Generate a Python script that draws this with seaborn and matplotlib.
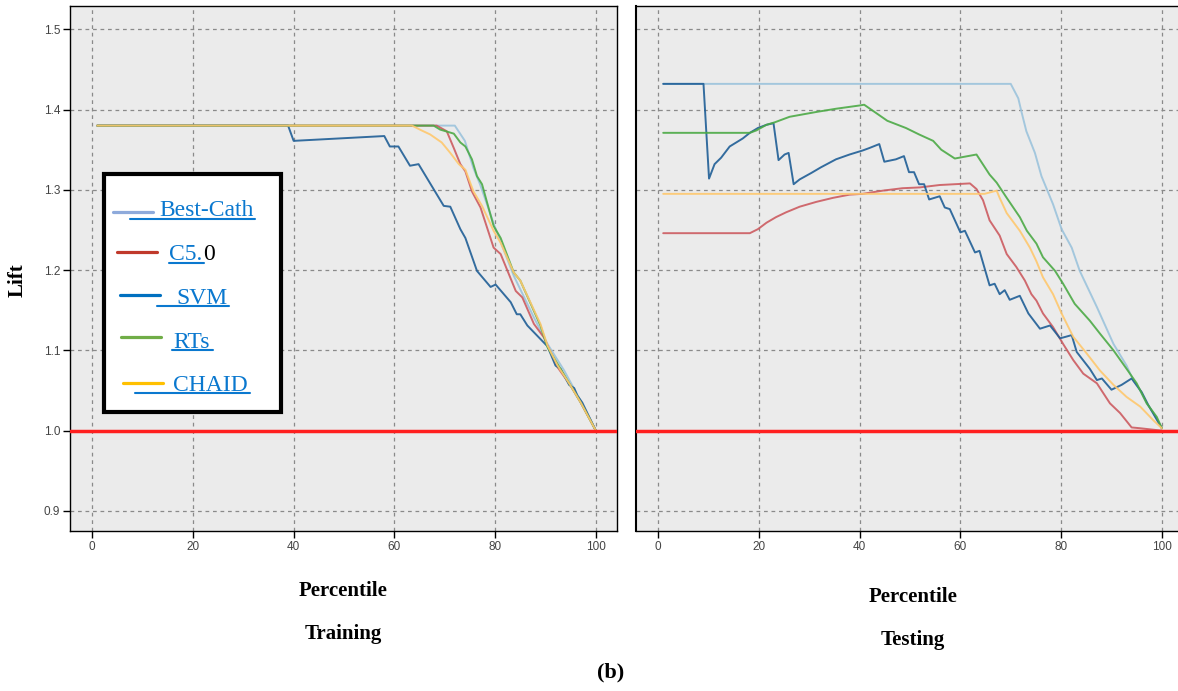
import matplotlib
matplotlib.use('Agg')
import matplotlib.pyplot as plt
import seaborn as sns
import pandas as pd
from matplotlib.lines import Line2D
from matplotlib.patches import Rectangle

# modelos e cores
models = ['Best-Cath', 'C5.0', 'SVM', 'RTs', 'CHAID']
line_colors = ['#9cc3dc', '#cc5b60', '#1f5e96', '#4caa46', '#ffc86e']
legend_colors = ['#8eaadb', '#c0392b', '#0070c0', '#70ad47', '#ffc000']

# Training
best_train_x = [1, 72, 74, 75.7, 77, 80, 83.7, 87.7, 90.4, 93.7, 97, 100]
best_train_y = [1.38, 1.38, 1.361, 1.327, 1.307, 1.253, 1.193, 1.141, 1.108, 1.075, 1.037, 1.0]
c50_train_x = [1, 68.4, 70.4, 71.8, 73.1, 74.1, 75.4, 77.1, 79.7, 81.1, 84.1, 85.4, 87.7, 89.7, 90.4, 92.4, 95, 97, 100]
c50_train_y = [1.38, 1.38, 1.373, 1.352, 1.332, 1.323, 1.298, 1.278, 1.228, 1.220, 1.174, 1.166, 1.133, 1.116, 1.106, 1.079, 1.056, 1.035, 1.0]
svm_train_x = [1, 38.9, 40, 58, 59.1, 60.8, 63.1, 64.8, 69.8, 71.1, 73.1, 74.1, 76.4, 79.1, 80.1, 83.1, 84.3, 85,
               86.4, 90.4, 92, 93, 94.7, 95.7, 96.3, 97.3, 100]
svm_train_y = [1.38, 1.38, 1.361, 1.367, 1.354, 1.354, 1.330, 1.332, 1.280, 1.279, 1.251, 1.240, 1.199, 1.179, 1.182,
               1.160, 1.145, 1.145, 1.131, 1.105, 1.081, 1.077, 1.057, 1.053, 1.044, 1.035, 1.0]
rts_train_x = [1, 63.5, 67.8, 69.1, 71.8, 73.1, 74.1, 75.4, 76.4, 77.4, 79.7, 81.1, 83.7, 85, 89, 90.4, 92.4, 95, 97, 100]
rts_train_y = [1.38, 1.38, 1.38, 1.375, 1.370, 1.359, 1.354, 1.338, 1.317, 1.307, 1.255, 1.240, 1.197, 1.187, 1.131,
               1.104, 1.083, 1.056, 1.035, 1.0]
chaid_train_x = [1, 63.5, 65.4, 67.1, 69.4, 71.1, 72.8, 74.1, 75.7, 77.4, 79.7, 81.1, 83.7, 85, 89, 90.4, 92.4, 95, 97, 100]
chaid_train_y = [1.38, 1.38, 1.374, 1.369, 1.359, 1.346, 1.332, 1.325, 1.298, 1.280, 1.249, 1.234, 1.197, 1.187, 1.133,
                 1.106, 1.081, 1.056, 1.035, 1.0]

# Testing
best_test_x = [1, 70, 71.5, 72.1, 73.1, 74.8, 76.1, 78.4, 80.1, 82.1, 83.7, 87.1, 90.4, 93, 94.3, 95.7, 97, 98.3, 100]
best_test_y = [1.432, 1.432, 1.414, 1.398, 1.373, 1.346, 1.317, 1.282, 1.251, 1.228, 1.199, 1.154, 1.108, 1.081, 1.063,
               1.050, 1.034, 1.022, 1.003]
c50_test_x = [1, 18.2, 19.8, 21.5, 23.4, 25.4, 28.1, 31.4, 34.7, 38, 40.6, 44.6, 48.5, 51.9, 55.9, 61.9, 63.2, 64.5,
              65.8, 67.8, 69.2, 71.1, 72.8, 74.1, 75.1, 76.4, 78.4, 80.4, 82.4, 84.4, 87.1, 89.7, 91.7, 94, 95.7, 100]
c50_test_y = [1.246, 1.246, 1.251, 1.259, 1.266, 1.272, 1.279, 1.285, 1.290, 1.294, 1.295, 1.299, 1.302, 1.303, 1.306,
              1.308, 1.301, 1.287, 1.262, 1.243, 1.220, 1.204, 1.187, 1.170, 1.162, 1.146, 1.129, 1.108, 1.088, 1.071,
              1.059, 1.034, 1.022, 1.004, 1.003, 1.0]
svm_test_x = [1, 9, 10.1, 11.2, 12.5, 14.2, 16.8, 18.2, 19.8, 21.5, 22.9, 23.9, 25.1, 25.9, 26.9, 28.1, 30.4, 32.3,
              35.3, 38, 40.6, 41.9, 43.9, 44.9, 47.2, 48.8, 49.8, 50.8, 51.8, 52.8, 53.8, 55.9, 56.9, 57.9, 60, 60.9,
              62.9, 63.8, 65.8, 66.8, 67.8, 68.8, 69.8, 71.8, 73.5, 75.8, 77.8, 79.8, 82.1, 83.1, 85.7, 87.1, 88.1,
              90, 92, 94, 96, 97.3, 100]
svm_test_y = [1.432, 1.432, 1.314, 1.332, 1.340, 1.354, 1.364, 1.371, 1.377, 1.381, 1.383, 1.337, 1.344, 1.346,
              1.307, 1.313, 1.321, 1.328, 1.338, 1.344, 1.349, 1.352, 1.357, 1.335, 1.338, 1.342, 1.322, 1.322,
              1.307, 1.307, 1.288, 1.292, 1.278, 1.276, 1.247, 1.249, 1.222, 1.224, 1.181, 1.183, 1.170, 1.175,
              1.163, 1.168, 1.146, 1.127, 1.131, 1.115, 1.119, 1.098, 1.077, 1.063, 1.065, 1.051, 1.057, 1.065,
              1.048, 1.032, 1.003]
rts_test_x = [1, 18.2, 19.5, 21.5, 23.1, 26.1, 31.4, 35.3, 39.9, 40.9, 43.2, 45.5, 49.2, 51.8, 54.6, 56.2, 58.9, 63.2,
              65.8, 67.2, 69.2, 71.8, 73.2, 75.1, 76.4, 78.8, 80.4, 82.7, 85.7, 87.7, 90.4, 93, 95, 97, 99, 100]
rts_test_y = [1.371, 1.371, 1.374, 1.381, 1.384, 1.391, 1.397, 1.401, 1.405, 1.406, 1.396, 1.386, 1.377, 1.369,
              1.361, 1.350, 1.339, 1.344, 1.319, 1.309, 1.290, 1.266, 1.249, 1.233, 1.216, 1.199, 1.183, 1.158,
              1.137, 1.121, 1.100, 1.077, 1.059, 1.034, 1.017, 1.003]
chaid_test_x = [1, 64.8, 67.2, 67.8, 69.2, 71.8, 73.8, 75.1, 76.4, 78.4, 80.1, 82.4, 85.1, 87.7, 90.4, 93, 95.7, 98.3, 100]
chaid_test_y = [1.295, 1.295, 1.299, 1.290, 1.271, 1.249, 1.228, 1.211, 1.191, 1.170, 1.146, 1.117, 1.096, 1.075,
                1.057, 1.042, 1.030, 1.013, 1.003]

x_ticks = [0, 20, 40, 60, 80, 100]
y_ticks = [0.9, 1.0, 1.1, 1.2, 1.3, 1.4, 1.5]


def monta_df(series):
    linhas = []
    for nome, (xs, ys) in zip(models, series):
        for x, y in zip(xs, ys):
            linhas.append({'Model': nome, 'Percentile': x, 'Lift': y})
    return pd.DataFrame(linhas)


df_train = monta_df([(best_train_x, best_train_y), (c50_train_x, c50_train_y), (svm_train_x, svm_train_y),
                     (rts_train_x, rts_train_y), (chaid_train_x, chaid_train_y)])
df_test = monta_df([(best_test_x, best_test_y), (c50_test_x, c50_test_y), (svm_test_x, svm_test_y),
                    (rts_test_x, rts_test_y), (chaid_test_x, chaid_test_y)])

sns.set_style('white')
plt.rcParams['font.family'] = ['Liberation Sans', 'DejaVu Sans']

W, H = 1178, 691
fig = plt.figure(figsize=(W / 100, H / 100), dpi=100)
ax1 = fig.add_axes([70 / W, 1 - 531 / H, 547 / W, 525 / H])
ax2 = fig.add_axes([636 / W, 1 - 531 / H, 547 / W, 525 / H])

for ax, df in [(ax1, df_train), (ax2, df_test)]:
    ax.set_facecolor('#ebebeb')
    ax.set_axisbelow(True)
    sns.lineplot(data=df, x='Percentile', y='Lift', hue='Model', hue_order=models, palette=line_colors,
                 estimator=None, errorbar=None, legend=False, lw=1.4, alpha=0.9, ax=ax)
    ax.axhline(1.0, color='#ff1f1f', lw=2.5, zorder=4)
    ax.set_xlim(-4.4, 104.2)
    ax.set_ylim(0.875, 1.529)
    ax.set_xticks(x_ticks)
    ax.set_xticklabels([str(t) for t in x_ticks])
    ax.set_yticks(y_ticks)
    ax.set_yticklabels(['%.1f' % t for t in y_ticks])
    ax.grid(True, color='#8a8a8a', linestyle=(0, (3, 3)), lw=0.9)
    ax.set_xlabel('')
    ax.set_ylabel('')
    ax.tick_params(axis='both', direction='out', length=5, width=1, color='black', bottom=True, left=True,
                   labelsize=8.5, labelcolor='#444444', pad=2)
    for s in ax.spines.values():
        s.set_color('black')
        s.set_linewidth(1.0)

ax2.tick_params(axis='y', left=False, labelleft=False)
ax2.spines['left'].set_linewidth(1.5)


def fx(x):
    return x / W


def fy(y):
    return 1 - y / H


serif = ['Liberation Serif', 'DejaVu Serif']
txt = dict(fontsize=15, fontweight='bold', family=serif, color='black')
fig.text(fx(18), fy(280), 'Lift', rotation=90, ha='center', va='center', **txt)
fig.text(fx(343), fy(591), 'Percentile', ha='center', va='center', **txt)
fig.text(fx(343), fy(634), 'Training', ha='center', va='center', **txt)
fig.text(fx(913), fy(597), 'Percentile', ha='center', va='center', **txt)
fig.text(fx(913), fy(640), 'Testing', ha='center', va='center', **txt)
fig.text(fx(611), fy(672), '(b)', ha='center', va='center', fontsize=16, fontweight='bold', family=serif, color='black')

# legenda desenhada a mão
fig.add_artist(Rectangle((fx(104), fy(412)), 177 / W, 238 / H, transform=fig.transFigure,
                         facecolor='white', edgecolor='black', lw=3, zorder=5))
leg_blue = '#0a78cf'
handle_x = [(113, 153), (117, 157), (120, 160), (121, 161), (123, 163)]
handle_y = [212, 252, 295, 337, 383]
text_x = [159, 169, 176, 173, 173]
text_y = [216, 260, 304, 348, 391]
under_x = [(130, 255), (169, 204), (157, 229), (172, 213), (135, 250)]
under_y = [219, 263, 306, 350, 393]
leg_labels = ['Best-Cath', 'C5.', 'SVM', 'RTs', 'CHAID']
for i in range(5):
    fig.add_artist(Line2D([fx(handle_x[i][0]), fx(handle_x[i][1])], [fy(handle_y[i])] * 2,
                          transform=fig.transFigure, color=legend_colors[i], lw=2.3, zorder=6))
    fig.text(fx(text_x[i]), fy(text_y[i]), leg_labels[i], ha='left', va='baseline', fontsize=17,
             color=leg_blue, family=serif, zorder=6)
    fig.add_artist(Line2D([fx(under_x[i][0]), fx(under_x[i][1])], [fy(under_y[i])] * 2,
                          transform=fig.transFigure, color=leg_blue, lw=1.5, zorder=6))
fig.text(fx(203), fy(text_y[1]), '0', ha='left', va='baseline', fontsize=17, color='black', family=serif, zorder=6)

fig.savefig('out.png', dpi=100)
